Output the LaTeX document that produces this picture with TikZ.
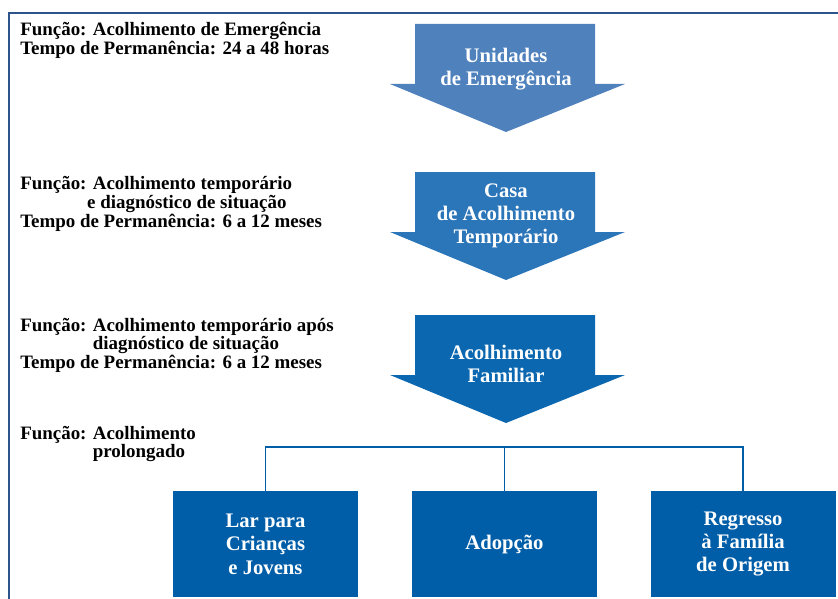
\documentclass[tikz,border=0pt]{standalone}
\usepackage{fontspec}
\setmainfont{Liberation Serif}[BoldFont={Liberation Serif Bold}]
\usetikzlibrary{positioning}
\definecolor{moldura}{RGB}{46,84,140}
\definecolor{seta1}{RGB}{79,129,189}
\definecolor{seta2}{RGB}{43,117,185}
\definecolor{seta3}{RGB}{11,104,176}
\definecolor{caixa}{RGB}{0,94,168}
\tikzset{
  funcao/.style={anchor=base west,inner sep=0pt,font=\rmfamily\bfseries\fontsize{14.2}{13.5}\selectfont},
  rotulo/.style={align=center,text=white,font=\rmfamily\bfseries\fontsize{15.5}{17.5}\selectfont},
  destino/.style={rotulo,fill=caixa,minimum width=138.75pt,minimum height=79.5pt,inner sep=0pt},
  ligacao/.style={draw=caixa,line width=1.4pt}
}
\begin{document}
\begin{tikzpicture}[x=0.75pt,y=-0.75pt]
	\useasboundingbox (0,0) rectangle (838,599);
	\draw[moldura,line width=1.6pt] (9,599) -- (9,13) -- (838,13); % moldura
	% setas
	\foreach \t/\c in {24/seta1,172/seta2,315/seta3}
		\fill[\c] (415,\t) -- (595,\t) -- (595,\t+60) -- (625,\t+60) -- (506,\t+108)
			-- (390,\t+60) -- (415,\t+60) -- cycle;
	\node[rotulo] (unidades) at (506,69) {Unidades\\de Emergência};
	\node[rotulo] (casa) at (506,216) {Casa\\de Acolhimento\\Temporário};
	\node[rotulo] (familiar) at (506,364) {Acolhimento\\Familiar};
	% textos da esquerda
	\node[funcao] (f1) at (20,36) {\begin{tabular}[t]{@{}l@{}}Função: Acolhimento de Emergência\\Tempo de Permanência: 24 a 48 horas\end{tabular}};
	\node[funcao] (f2) at (20,190) {\begin{tabular}[t]{@{}l@{ }l@{}}Função: & Acolhimento temporário\\ & \hspace{-0.3em}e diagnóstico de situação\\ \multicolumn{2}{@{}l@{}}{Tempo de Permanência: 6 a 12 meses}\end{tabular}};
	\node[funcao] (f3) at (20,331) {\begin{tabular}[t]{@{}l@{ }l@{}}Função: & Acolhimento temporário após\\ & diagnóstico de situação\\ \multicolumn{2}{@{}l@{}}{Tempo de Permanência: 6 a 12 meses}\end{tabular}};
	\node[funcao] (f4) at (20,439) {\begin{tabular}[t]{@{}l@{ }l@{}}Função: & Acolhimento\\ & prolongado\end{tabular}};
	% destinos
	\node[destino] (lar) at (265.5,544) {Lar para\\Crianças\\e Jovens};
	\node[destino] (adopcao) at (504.5,544) {Adopção};
	\node[destino] (regresso) at (743,544) {Regresso\\à Família\\de Origem};
	\coordinate (barra) at (0,447);
	\draw[ligacao] (lar.north) -- (lar.north |- barra) -| (regresso.north);
	\draw[ligacao] (adopcao.north) -- (adopcao.north |- barra);
\end{tikzpicture}
\end{document}
